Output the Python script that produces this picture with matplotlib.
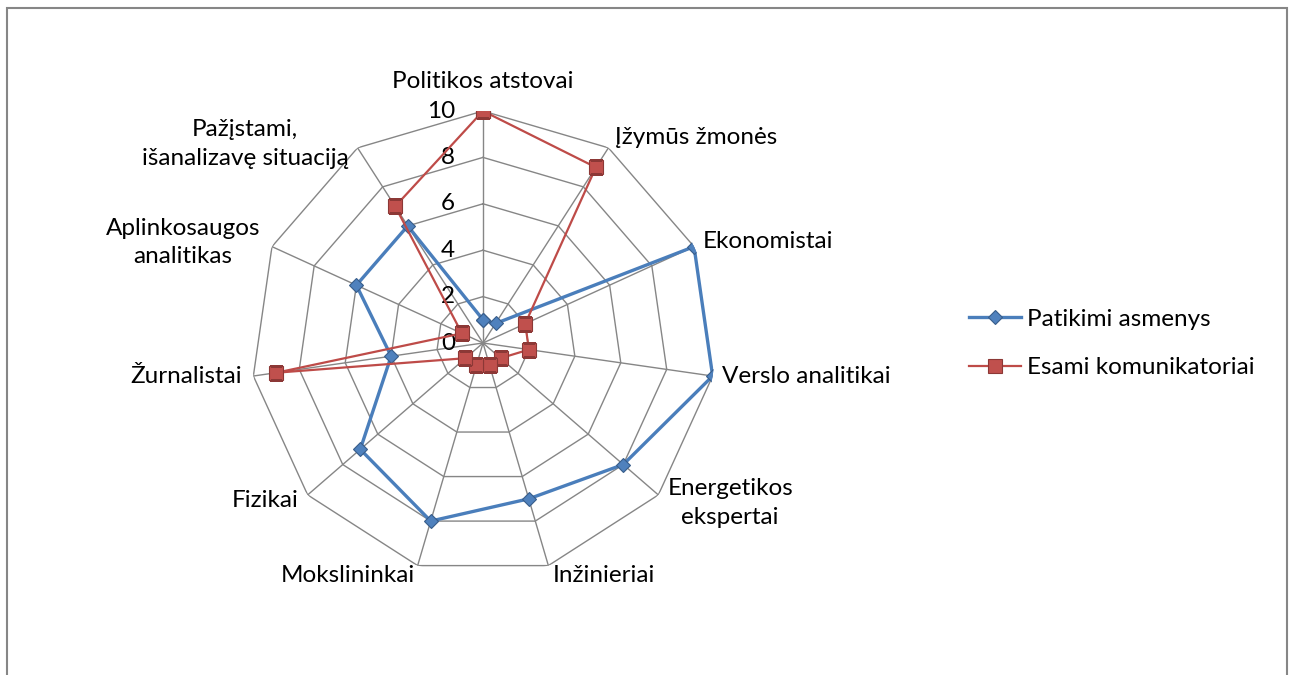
import numpy as np
import matplotlib
matplotlib.use('Agg')
import matplotlib.pyplot as plt
from matplotlib.patches import Rectangle

plt.rcParams['font.family'] = ['Lato', 'DejaVu Sans']

# kategorijos (pagal laikrodžio rodyklę nuo viršaus)
categories = ['Politikos atstovai', 'Įžymūs žmonės', 'Ekonomistai', 'Verslo analitikai',
              'Energetikos\nekspertai', 'Inžinieriai', 'Mokslininkai', 'Fizikai',
              'Žurnalistai', 'Aplinkosaugos\nanalitikas', 'Pažįstami,\nišanalizavę situaciją']
patikimi = [1, 1, 10, 10, 8, 7, 8, 7, 4, 6, 6]
esami = [10, 9, 2, 2, 1, 1, 1, 1, 9, 1, 7]
rticks = [0, 2, 4, 6, 8, 10]

# etikečių poslinkiai (px) ir lygiavimas
lbl_off = [(0, 29), (7, 10), (9, 5), (9, 0), (9, -8), (4, -10),
           (-3, -10), (-9, -6), (-11, 0), (-12, 4), (-9, 4)]
lbl_ha = ['center', 'left', 'left', 'left', 'left', 'left',
          'right', 'right', 'right', 'right', 'right']

fs = 17.5
n = len(categories)
theta = np.linspace(0, 2 * np.pi, n, endpoint=False)
theta_c = np.append(theta, theta[0])

fig = plt.figure(figsize=(12.93, 6.75), dpi=100)
fig.patches.append(Rectangle((7 / 1293, -0.1), 1280 / 1293, 1.1 - 8 / 675,
                             transform=fig.transFigure, fill=False,
                             edgecolor='#868686', lw=1.5))

ax = fig.add_axes([251 / 1293, 100 / 675, 464 / 1293, 464 / 675], projection='polar')
ax.set_theta_zero_location('N')
ax.set_theta_direction(-1)
ax.set_ylim(0, 10)
ax.grid(False)
ax.spines['polar'].set_visible(False)
ax.set_xticks([])
ax.set_yticks([])
ax.patch.set_alpha(0)

gc = '#868686'
for r in rticks[1:]:
    ax.plot(theta_c, [r] * (n + 1), color=gc, lw=1.0, zorder=1)
for t in theta:
    ax.plot([t, t], [0, 10], color=gc, lw=1.0, zorder=1)

for r in rticks:
    ax.annotate(str(r), xy=(0, r), xytext=(-28, 0), textcoords='offset pixels',
                ha='right', va='center', fontsize=fs)

for i in range(n):
    ax.annotate(categories[i], xy=(theta[i], 10), xytext=lbl_off[i],
                textcoords='offset pixels', ha=lbl_ha[i], va='center',
                multialignment='center', linespacing=1.45, fontsize=fs)

l1, = ax.plot(theta_c, patikimi + patikimi[:1], color='#4A7EBB', lw=2.4,
              marker='D', markersize=7.6, markerfacecolor='#4F81BD',
              markeredgecolor='#385D8A', markeredgewidth=0.8, zorder=3,
              label='Patikimi asmenys')
l2, = ax.plot(theta_c, esami + esami[:1], color='#BE4B48', lw=1.6,
              marker='s', markersize=9.5, markerfacecolor='#C0504D',
              markeredgecolor='#8C3836', markeredgewidth=0.8, zorder=4,
              label='Esami komunikatoriai')

fig.legend(handles=[l1, l2], loc='center left', bbox_to_anchor=(969 / 1293, 1 - 343.5 / 675),
           frameon=False, fontsize=fs, handlelength=2.15, handletextpad=0.25,
           borderpad=0, borderaxespad=0, labelspacing=1.15)

plt.savefig('out.png', dpi=100)
